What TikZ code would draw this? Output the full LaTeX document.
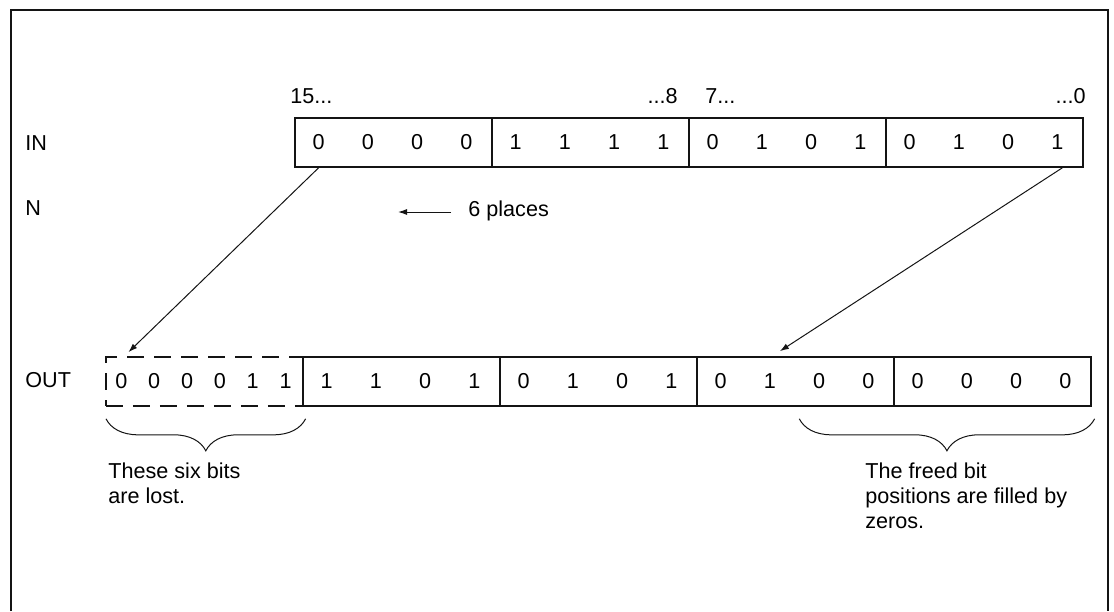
\documentclass[tikz,border=0pt]{standalone}
\usepackage{fontspec}
\setmainfont{Liberation Sans}
\usetikzlibrary{arrows.meta,positioning,calc,decorations.pathreplacing}
\definecolor{shink}{RGB}{20,20,20}
\tikzset{
  nib/.style={
    draw=shink, line width=0.8pt, minimum width=98.5pt,
    minimum height=24.5pt, inner sep=0pt, anchor=west
  },
  lostnib/.style={nib, dash pattern=on 8.5pt off 5pt},
  bit/.style={inner sep=0pt},
  lbl/.style={inner sep=0pt},
  note/.style={inner sep=0pt, align=left, anchor=north west},
  arr/.style={-{Latex[length=4.5pt,width=3pt]}, draw=shink, line width=0.5pt},
  brc/.style={
    draw=shink, line width=0.5pt, decorate,
    decoration={brace, amplitude=16pt}
  },
  frame/.style={draw=shink, line width=1pt}
}

\begin{document}
\begin{tikzpicture}[x=0.5pt, y=-0.5pt, font=\fontsize{10.8pt}{12.6pt}\selectfont]
  \useasboundingbox (0,0) rectangle (1114,611);
  \draw[frame] (11,611) -- (11,10) -- (1108,10) -- (1108,611);

  % row labels
  \node[lbl, anchor=west] (inlbl) at (25,143) {IN};
  \node[lbl, anchor=west] (nlbl) at (25,208) {N};
  \node[lbl, anchor=west] (outlbl) at (25,380) {OUT};

  % bit numbers
  \node[lbl, anchor=base west] (num15) at (290,103) {15...};
  \node[lbl, anchor=base east] (num8) at (678,103) {...8};
  \node[lbl, anchor=base west] (num7) at (705,103) {7...};
  \node[lbl, anchor=base east] (num0) at (1086,103) {...0};

  % IN word
  \foreach \bits [count=\i from 0] in {{0,0,0,0},{1,1,1,1},{0,1,0,1},{0,1,0,1}} {
    \node[nib] (in\i) at ({294+197*\i},142.5) {};
    \foreach \b [count=\j from 0] in \bits
      \node[bit] (in\i-\j) at ({318.6+197*\i+49.25*\j},142.5) {\b};
  }

  % shift count
  \node[lbl, anchor=west] (places) at (468,211) {6 places};
  \coordinate (placetip) at (398,212);
  \draw[arr] ($(places.west)+(-17,1)$) -- (placetip);

  % OUT word
  \node[lostnib] (lost) at (105,381.5) {};
  \foreach \b [count=\j from 0] in {0,0,0,0,1,1}
    \node[bit] (lost-\j) at ({121.4+32.83*\j},381.5) {\b};
  \foreach \bits [count=\i from 1] in {{1,1,0,1},{0,1,0,1},{0,1,0,0},{0,0,0,0}} {
    \node[nib] (out\i) at ({302+197*(\i-1)},381.5) {};
    \foreach \b [count=\j from 0] in \bits
      \node[bit] (out\i-\j) at ({326.6+197*(\i-1)+49.25*\j},381.5) {\b};
  }

  % moved bits
  \draw[arr] (in0-0 |- in0.south) -- ($(lost-0 |- lost.north)+(7,-4)$);
  \draw[arr] ($(in3-3 |- in3.south)+(5,0)$) -- ($(out3-1 |- out3.north)+(10,-5)$);

  % braces and notes
  \draw[brc] ($(lost.south east)+(2,12)$) -- ($(lost.south west)+(1,12)$);
  \draw[brc] ($(out4.south east)+(3,12)$) -- ($(out3.south)+(4,12)$);
  \node[note] (lostnote) at (108,462) {These six bits\\are lost.};
  \node[note] (freednote) at (865,462) {The freed bit\\positions are filled by\\zeros.};
\end{tikzpicture}
\end{document}
